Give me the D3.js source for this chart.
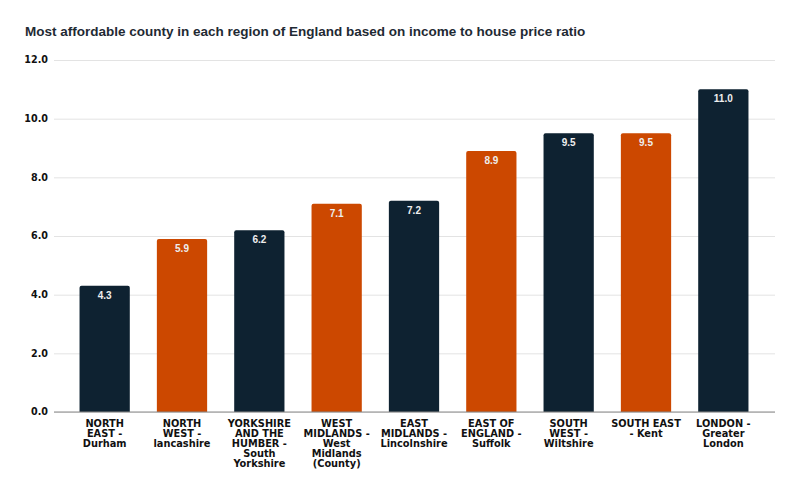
<html>
<head>
<script src="https://d3js.org/d3.v7.min.js"></script>
<style>
  body { margin: 0; background: #fff; }
  .gridlines .domain { display: none; }
  .gridlines line { stroke: #e3e3e3; }
</style>
</head>
<body>
<svg id="chart" width="800" height="493"></svg>
<script>
// data
const regions = [
  "NORTH|EAST -|Durham",
  "NORTH|WEST -|lancashire",
  "YORKSHIRE|AND THE|HUMBER -|South|Yorkshire",
  "WEST|MIDLANDS -|West|Midlands|(County)",
  "EAST|MIDLANDS -|Lincolnshire",
  "EAST OF|ENGLAND -|Suffolk",
  "SOUTH|WEST -|Wiltshire",
  "SOUTH EAST|- Kent",
  "LONDON -|Greater|London"
];
const ratios = [4.3, 5.9, 6.2, 7.1, 7.2, 8.9, 9.5, 9.5, 11.0];
const barColours = ["#0e2231", "#cc4800", "#0e2231", "#cc4800", "#0e2231", "#cc4800", "#0e2231", "#cc4800", "#0e2231"];
const yTicks = [0, 2, 4, 6, 8, 10, 12];

const svg = d3.select("#chart");
const margin = { top: 60, right: 25, bottom: 81, left: 54 };
const width = +svg.attr("width");
const height = +svg.attr("height");
const chartWidth = width - margin.left - margin.right;
const chartHeight = height - margin.top - margin.bottom;

svg.append("text")
  .attr("x", 25).attr("y", 36)
  .attr("font-family", "Liberation Sans, Arial, sans-serif")
  .attr("font-weight", "bold")
  .attr("font-size", 13.5)
  .attr("fill", "#1f2a33")
  .text("Most affordable county in each region of England based on income to house price ratio");

const graph = svg.append("g").attr("transform", `translate(${margin.left},${margin.top})`);

const xScale = d3.scaleBand()
  .domain(d3.range(regions.length))
  .range([12, chartWidth - 13])
  .paddingInner(0.35)
  .paddingOuter(0.175);

const yScale = d3.scaleLinear()
  .domain([0, 12])
  .range([chartHeight, 0]);

// gridlines
graph.append("g")
  .attr("class", "gridlines")
  .call(d3.axisLeft(yScale).tickValues(yTicks).tickSize(-chartWidth).tickFormat(""));

// y labels
graph.append("g")
  .selectAll("text")
  .data(yTicks)
  .join("text")
  .attr("x", -6)
  .attr("y", d => yScale(d))
  .attr("dy", "0.35em")
  .attr("text-anchor", "end")
  .attr("font-family", "DejaVu Sans, sans-serif")
  .attr("font-weight", "bold")
  .attr("font-size", 9.6)
  .attr("fill", "#111")
  .text(d => d.toFixed(1));

// bars
graph.selectAll(".bar")
  .data(ratios)
  .join("path")
  .attr("class", "bar")
  .attr("fill", (d, i) => barColours[i])
  .attr("d", (d, i) => {
    const x0 = xScale(i), w = xScale.bandwidth();
    const y0 = yScale(d), y1 = yScale(0), r = 2;
    return `M${x0},${y1}V${y0 + r}Q${x0},${y0} ${x0 + r},${y0}H${x0 + w - r}Q${x0 + w},${y0} ${x0 + w},${y0 + r}V${y1}Z`;
  });

// value labels
graph.selectAll(".val")
  .data(ratios)
  .join("text")
  .attr("class", "val")
  .attr("x", (d, i) => xScale(i) + xScale.bandwidth() / 2)
  .attr("y", d => yScale(d) + 13)
  .attr("text-anchor", "middle")
  .attr("font-family", "Liberation Sans, Arial, sans-serif")
  .attr("font-weight", "bold")
  .attr("font-size", 10)
  .attr("fill", "#eeeeee")
  .text(d => d.toFixed(1));

// baseline
graph.append("line")
  .attr("x1", 0).attr("x2", chartWidth)
  .attr("y1", yScale(0)).attr("y2", yScale(0))
  .attr("stroke", "#888").attr("stroke-width", 1);

// category labels
const catLabels = graph.selectAll(".cat")
  .data(regions)
  .join("text")
  .attr("class", "cat")
  .attr("text-anchor", "middle")
  .attr("font-family", "DejaVu Sans, sans-serif")
  .attr("font-weight", "bold")
  .attr("font-size", 9.8)
  .attr("fill", "#111")
  .attr("transform", (d, i) => `translate(${xScale(i) + xScale.bandwidth() / 2},${chartHeight + 15})`);

catLabels.selectAll("tspan")
  .data(d => d.split("|"))
  .join("tspan")
  .attr("x", 0)
  .attr("y", (d, j) => j * 10)
  .text(d => d);
</script>
</body>
</html>
